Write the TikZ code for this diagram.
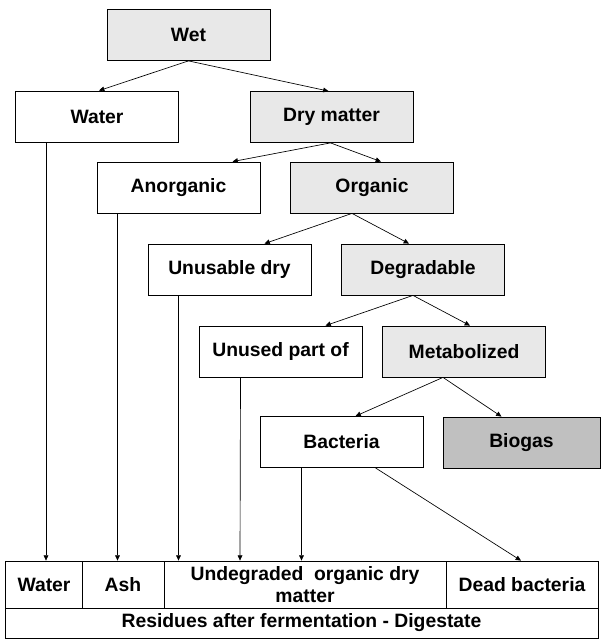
\documentclass[tikz,border=0pt]{standalone}
\usepackage{fontspec}
\setmainfont{Liberation Sans}
\usepackage{tikz}
\usetikzlibrary{arrows.meta,calc}

\definecolor{lightgrey}{HTML}{E8E8E8}
\definecolor{midgrey}{HTML}{C0C0C0}

\tikzset{
    box/.style={draw, rectangle, line width=0.6pt, minimum width=122.25pt, minimum height=38.25pt, inner sep=0pt, font=\bfseries\fontsize{14.5}{16.5}\selectfont},
    greybox/.style={box, fill=lightgrey},
    cell/.style={draw, rectangle, line width=0.6pt, minimum height=35.25pt, inner sep=0pt, align=center, font=\bfseries\fontsize{14.5}{16.5}\selectfont},
    >={Triangle[length=4pt,width=3.6pt]}
}

\begin{document}
\begin{tikzpicture}[x=0.75pt, y=-0.75pt, line width=0.5pt]
        \useasboundingbox (0,0) rectangle (601,639);
        \node[greybox] (wet) at (188.5,35) {Wet};
        \node[box] (water) at (97,116.5) {Water};
        \node[greybox] (dry) at (331.5,117) {Dry matter};
        \node[box] (anorg) at (178.5,187.5) {Anorganic};
        \node[greybox] (org) at (372,187.5) {Organic};
        \node[box] (unusable) at (229.5,269.5) {Unusable dry};
        \node[greybox] (degr) at (423,269.5) {Degradable};
        \node[box] (unused) at (280.5,351.5) {Unused part of};
        \node[greybox] (metab) at (464,351.5) {Metabolized};
        \node[box] (bact) at (341.5,442) {Bacteria};
        \node[box, fill=midgrey, minimum width=117.75pt] (biogas) at (521.5,442.5) {Biogas};

        \node[cell, minimum width=57.75pt] (cwater) at (44,584.5) {Water};
        \node[cell, minimum width=61.5pt] (cash) at (123,584.5) {Ash};
        \node[cell, minimum width=211.5pt] (cundeg) at (305,584.5) {Undegraded\ \ organic dry\\matter};
        \node[cell, minimum width=114pt] (cdead) at (522,584.5) {Dead bacteria};
        \node[cell, minimum width=444.75pt, minimum height=22.5pt] (cres) at (301.5,623) {Residues after fermentation - Digestate};

        \draw[->] (wet.south) -- ($(water.north)+(2,0)$);
        \draw[->] (wet.south) -- ($(dry.north)+(-3,0)$);
        \draw[->] ($(dry.south)+(-1,0)$) -- ($(anorg.north)+(54,0)$);
        \draw[->] ($(dry.south)+(-1,0)$) -- ($(org.north)+(9,0)$);
        \draw[->] ($(org.south)+(-20,0)$) -- ($(unusable.north)+(35,0)$);
        \draw[->] ($(org.south)+(-20,0)$) -- ($(degr.north)+(-14,0)$);
        \draw[->] ($(degr.south)+(-10,0)$) -- ($(unused.north)+(45,0)$);
        \draw[->] ($(degr.south)+(-10,0)$) -- ($(metab.north)+(6,0)$);
        \draw[->] ($(metab.south)+(-21,0)$) -- ($(bact.north)+(14,0)$);
        \draw[->] ($(metab.south)+(-21,0)$) -- ($(biogas.north)+(-20,0)$);

        \draw[->] ($(water.south)+(-51,0)$) -- ($(cwater.north)+(2,0)$);
        \draw[->] ($(anorg.south)+(-61,0)$) -- ($(cash.north)+(-5.5,0)$);
        \draw[->] ($(unusable.south)+(-51,0)$) -- ($(cundeg.north)+(-126.5,0)$);
        \draw[->] ($(unused.south)+(-40,0)$) -- ($(cundeg.north)+(-65,0)$);
        \draw[->] ($(bact.south)+(-40,0)$) -- ($(cundeg.north)+(-3.5,0)$);
        \draw[->] ($(bact.south)+(34,0)$) -- ($(cdead.north)+(-1,0)$);
    \end{tikzpicture}
\end{document}
